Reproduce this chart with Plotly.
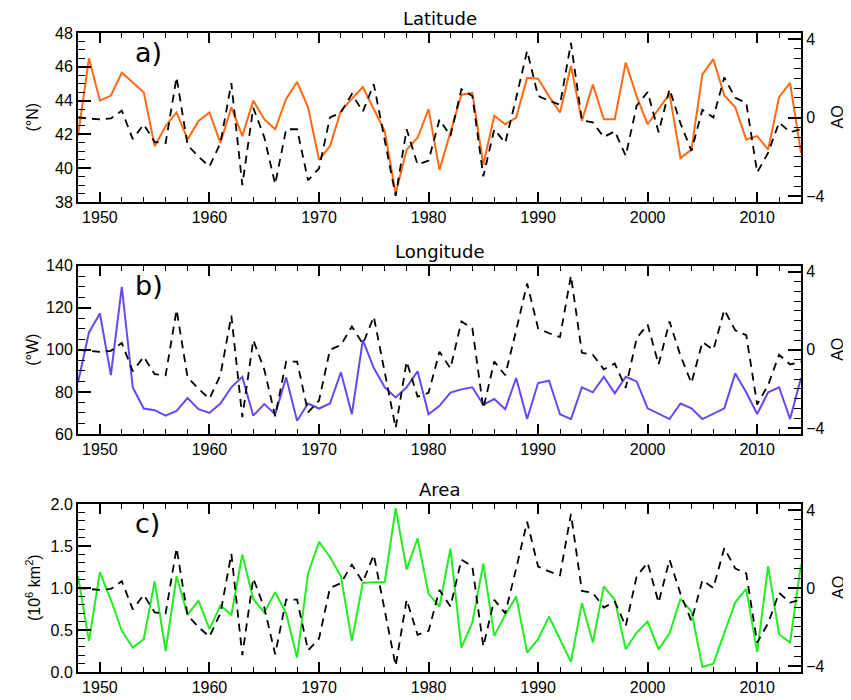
import plotly.graph_objects as go

years = list(range(1948, 2015))

ao = [0.0, -0.05, -0.1, -0.05, 0.35, -1.1, -0.35, -1.25, -1.3, 2.05,
      -1.4, -2.0, -2.5, -1.3, 1.75, -3.45, 0.5, -1.0, -3.4, -0.6,
      -0.6, -3.2, -2.6, 0.0, 0.25, 1.2, 0.3, 1.7, -1.1, -4.0,
      -0.6, -2.4, -2.2, -0.1, -0.95, 1.45, 1.1, -3.0, -0.6, -1.3,
      1.0, 3.4, 1.1, 0.85, 0.65, 3.8, -0.15, -0.25, -1.0, -0.7,
      -1.95, 0.6, 1.3, -0.75, 1.45, -0.3, -1.7, 0.4, 0.0, 2.05,
      1.0, 0.75, -2.8, -1.8, -0.25, -0.75, -0.6]

latitude = [41.9, 46.5, 44.0, 44.3, 45.65, 45.1, 44.5, 41.3, 42.5, 43.3,
            41.7, 42.8, 43.3, 41.5, 43.6, 41.9, 44.0, 42.9, 42.3, 44.1,
            45.1, 43.6, 40.5, 41.3, 43.4, 44.1, 44.8, 43.5, 42.2, 38.5,
            41.1, 41.8, 43.5, 39.9, 42.1, 44.35, 44.45, 40.2, 43.1, 42.6,
            43.0, 45.35, 45.3, 44.25, 43.3, 46.05, 42.8, 44.95, 42.9, 42.9,
            46.25, 44.25, 42.6, 43.5, 44.4, 40.6, 41.1, 45.55, 46.45, 44.3,
            43.6, 41.7, 41.9, 41.1, 44.2, 45.05, 40.9]

longitude = [84.5, 108.3, 117.3, 88.0, 130.0, 82.1, 72.1, 71.3, 68.7, 71.0,
             77.1, 71.8, 70.0, 74.5, 82.2, 87.2, 68.7, 74.2, 69.4, 86.9,
             66.3, 74.5, 72.1, 74.5, 89.3, 69.4, 104.6, 91.4, 82.2, 77.4,
             82.2, 89.8, 69.4, 73.4, 79.7, 81.2, 82.2, 73.9, 76.6, 71.8,
             86.6, 67.1, 84.2, 85.3, 69.4, 67.1, 82.2, 79.8, 87.2, 79.3,
             87.2, 85.0, 72.2, 69.5, 67.1, 74.5, 72.2, 67.1, 69.5, 72.2,
             88.8, 79.8, 69.5, 79.8, 82.2, 67.1, 86.6]

area = [1.14, 0.37, 1.19, 0.86, 0.49, 0.29, 0.39, 1.08, 0.25, 1.14,
        0.68, 0.85, 0.51, 0.79, 0.68, 1.40, 0.87, 0.71, 0.95, 0.70,
        0.17, 1.17, 1.55, 1.37, 1.14, 0.37, 1.06, 1.07, 1.07, 1.95,
        1.22, 1.59, 0.93, 0.78, 1.47, 0.29, 0.59, 1.29, 0.43, 0.68,
        0.90, 0.23, 0.39, 0.66, 0.39, 0.12, 0.82, 0.35, 1.02, 0.86,
        0.27, 0.47, 0.60, 0.27, 0.46, 0.87, 0.72, 0.06, 0.10, 0.47,
        0.83, 0.99, 0.24, 1.26, 0.45, 0.35, 1.28]

panel_titles = ["Latitude", "Longitude", "Area"]
panel_tags = ["a)", "b)", "c)"]
left_titles = ["(°N)", "(°W)", "(10<sup>6</sup> km<sup>2</sup>)"]
ao_labels = ["\u22124", "0", "4"]

FONT = "Liberation Sans, Arial, sans-serif"
TFONT = "DejaVu Sans, sans-serif"
TAGFONT = "DejaVu Sans ExtraLight, DejaVu Sans, sans-serif"
DASH = "8px,6px"

fig = go.Figure()

series = [(latitude, "#FF6A13"), (longitude, "#6A45F5"), (area, "#22EE22")]
xa = ["x", "x2", "x3"]
ya_left = ["y", "y3", "y5"]
ya_right = ["y2", "y4", "y6"]

for i, (vals, col) in enumerate(series):
    fig.add_trace(go.Scatter(x=years, y=ao, mode="lines", xaxis=xa[i], yaxis=ya_right[i],
                             line=dict(color="black", width=1.8, dash=DASH), showlegend=False))
    fig.add_trace(go.Scatter(x=years, y=vals, mode="lines", xaxis=xa[i], yaxis=ya_left[i],
                             line=dict(color=col, width=2), showlegend=False))

domains = [[0.7355, 1.0], [0.3725, 0.6358], [0.0, 0.2629]]
left_ranges = [[38, 48], [60, 140], [0, 2.0]]
left_dtick = [2, 20, 0.5]
left_minor = [0.5, 5, 0.1]
left_fmt = ["d", "d", ".1f"]
AO_RANGE = [-4.31, 4.31]

tickfont = dict(family=FONT, size=16, color="black")

# the page body adds an 8px offset, so the figure is 8px smaller and shifted
W, H = 843, 692
ML, MR, MT, MB = 70, 50, 25, 28
layout = dict(
    width=W, height=H,
    margin=dict(l=ML, r=MR, t=MT, b=MB, autoexpand=False),
    paper_bgcolor="white", plot_bgcolor="white",
    showlegend=False,
)

axis_names_x = ["xaxis", "xaxis2", "xaxis3"]
axis_names_yl = ["yaxis", "yaxis3", "yaxis5"]
axis_names_yr = ["yaxis2", "yaxis4", "yaxis6"]
axis_names_yt = ["yaxis7", "yaxis8", "yaxis9"]

for i in range(3):
    layout[axis_names_x[i]] = dict(
        domain=[0, 1], anchor=ya_left[i], range=[1948, 2014], automargin=False,
        tickmode="linear", tick0=1950, dtick=10,
        ticks="inside", ticklen=10, tickwidth=1.5, tickcolor="black",
        minor=dict(dtick=2, tick0=1948, ticks="inside", ticklen=5, tickwidth=1.2, tickcolor="black"),
        showline=True, linecolor="black", linewidth=2, mirror="ticks",
        showgrid=False, zeroline=False, tickfont=tickfont,
    )
    layout[axis_names_yl[i]] = dict(
        domain=domains[i], anchor=xa[i], range=left_ranges[i], automargin=False,
        tickmode="linear", tick0=left_ranges[i][0], dtick=left_dtick[i], tickformat=left_fmt[i],
        ticks="inside", ticklen=13, tickwidth=1.5, tickcolor="black",
        minor=dict(dtick=left_minor[i], ticks="inside", ticklen=7, tickwidth=1.2, tickcolor="black"),
        showline=True, linecolor="black", linewidth=2, mirror=False,
        showgrid=False, zeroline=False, tickfont=tickfont,
    )
    layout[axis_names_yr[i]] = dict(
        overlaying=ya_left[i], anchor=xa[i], side="right", range=AO_RANGE, automargin=False,
        tickmode="array", tickvals=[-4, 0, 4], ticktext=ao_labels,
        ticks="inside", ticklen=13, tickwidth=1.5, tickcolor="black",
        minor=dict(tickmode="linear", tick0=0, dtick=0.5, ticks="inside", ticklen=7, tickwidth=1.2, tickcolor="black"),
        showline=True, linecolor="black", linewidth=2,
        showgrid=False, zeroline=False, tickfont=tickfont,
    )
    # unlabeled long ticks at +/-2 on the AO axis
    layout[axis_names_yt[i]] = dict(
        overlaying=ya_left[i], anchor=xa[i], side="right", range=AO_RANGE, automargin=False,
        tickmode="array", tickvals=[-2, 2], showticklabels=False,
        ticks="inside", ticklen=13, tickwidth=1.5, tickcolor="black",
        showline=False, showgrid=False, zeroline=False,
    )

plot_w = W - ML - MR
annotations = []
for i in range(3):
    top = domains[i][1]
    mid = (domains[i][0] + domains[i][1]) / 2
    annotations.append(dict(text=panel_titles[i], x=0.5, xref="paper", y=top, yref="paper",
                            yshift=2, yanchor="bottom", showarrow=False,
                            font=dict(family=TFONT, size=18, color="black")))
    annotations.append(dict(text=panel_tags[i], x=1953, xref=xa[i], y=top, yref="paper",
                            yshift=-2, yanchor="top", xanchor="left", showarrow=False,
                            font=dict(family=TAGFONT, size=27, color="black")))
    annotations.append(dict(text=left_titles[i], x=(25 - ML) / plot_w, xref="paper", y=mid, yref="paper",
                            showarrow=False, textangle=-90, xanchor="center", yanchor="middle",
                            font=dict(family=FONT, size=16, color="black")))
    annotations.append(dict(text="AO", x=(830 - ML) / plot_w, xref="paper", y=mid, yref="paper",
                            showarrow=False, textangle=-90, xanchor="center", yanchor="middle",
                            font=dict(family=FONT, size=16, color="black")))
layout["annotations"] = annotations

fig.update_layout(**layout)
fig.write_html("out.html")
